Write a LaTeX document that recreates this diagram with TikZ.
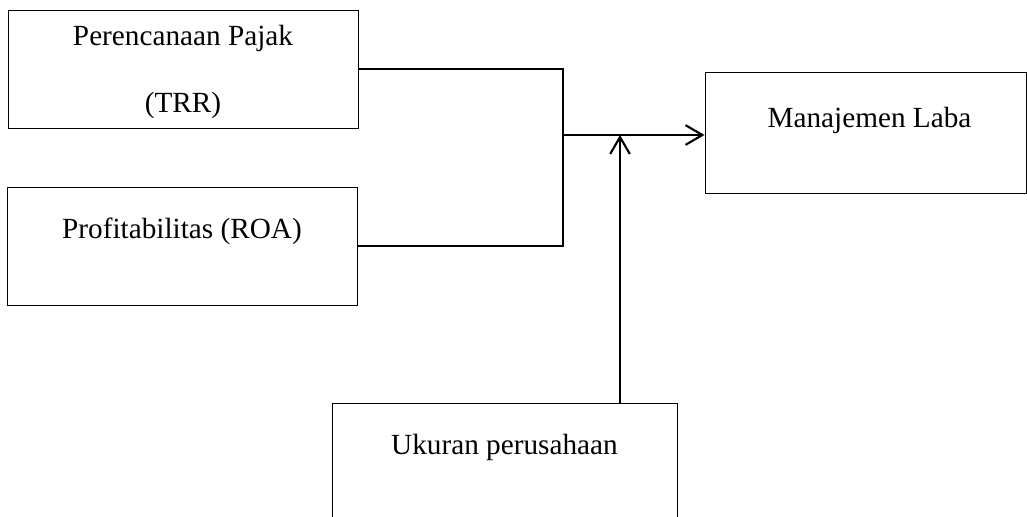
\documentclass[tikz,border=0pt]{standalone}
\usepackage{fontspec}
\setmainfont{Liberation Serif}
\usepackage{tikz}
\usetikzlibrary{positioning,calc,arrows.meta}
\tikzset{>={Straight Barb[length=12pt,width=14pt]}}
\tikzset{
  box/.style={draw,line width=.7pt,inner sep=0pt,minimum width=8.75cm,minimum height=2.95cm},
  txt/.style={anchor=base,inner sep=0pt,align=center,font=\fontsize{20.8}{48}\selectfont},
  link/.style={line width=1pt},
  arr/.style={->,line width=1.5pt}
}
\begin{document}
\begin{tikzpicture}
\clip (0,0) rectangle (25.675,-12.925);
\node[box] (pajak) at (4.575,-1.725) {};
\node[box] (roa) at (4.55,-6.15) {};
\node[box,minimum width=8.025cm,minimum height=3.025cm] (laba) at (21.6375,-3.3125) {};
\node[box,minimum width=8.625cm] (ukuran) at (12.6125,-11.55) {};
\node[txt] (pajak-t) at ($(pajak.north)+(0,-2.575)$) {Perencanaan Pajak\\(TRR)};
\node[txt] (roa-t) at ($(roa.north)+(0,-1.3)$) {Profitabilitas (ROA)};
\node[txt] (laba-t) at ($(laba.north)+(.1,-1.4)$) {Manajemen Laba};
\node[txt] (ukuran-t) at ($(ukuran.north)+(0,-1.3)$) {Ukuran perusahaan};
\coordinate (jn) at (14.075,-3.375);
\coordinate (mid) at (15.5,-3.375);
\draw[link] (pajak.east) -| (jn) |- (roa.east);
\draw[arr] (jn) -- (jn -| laba.west);
\draw[arr] (ukuran.north -| mid) -- (mid);
\end{tikzpicture}
\end{document}
